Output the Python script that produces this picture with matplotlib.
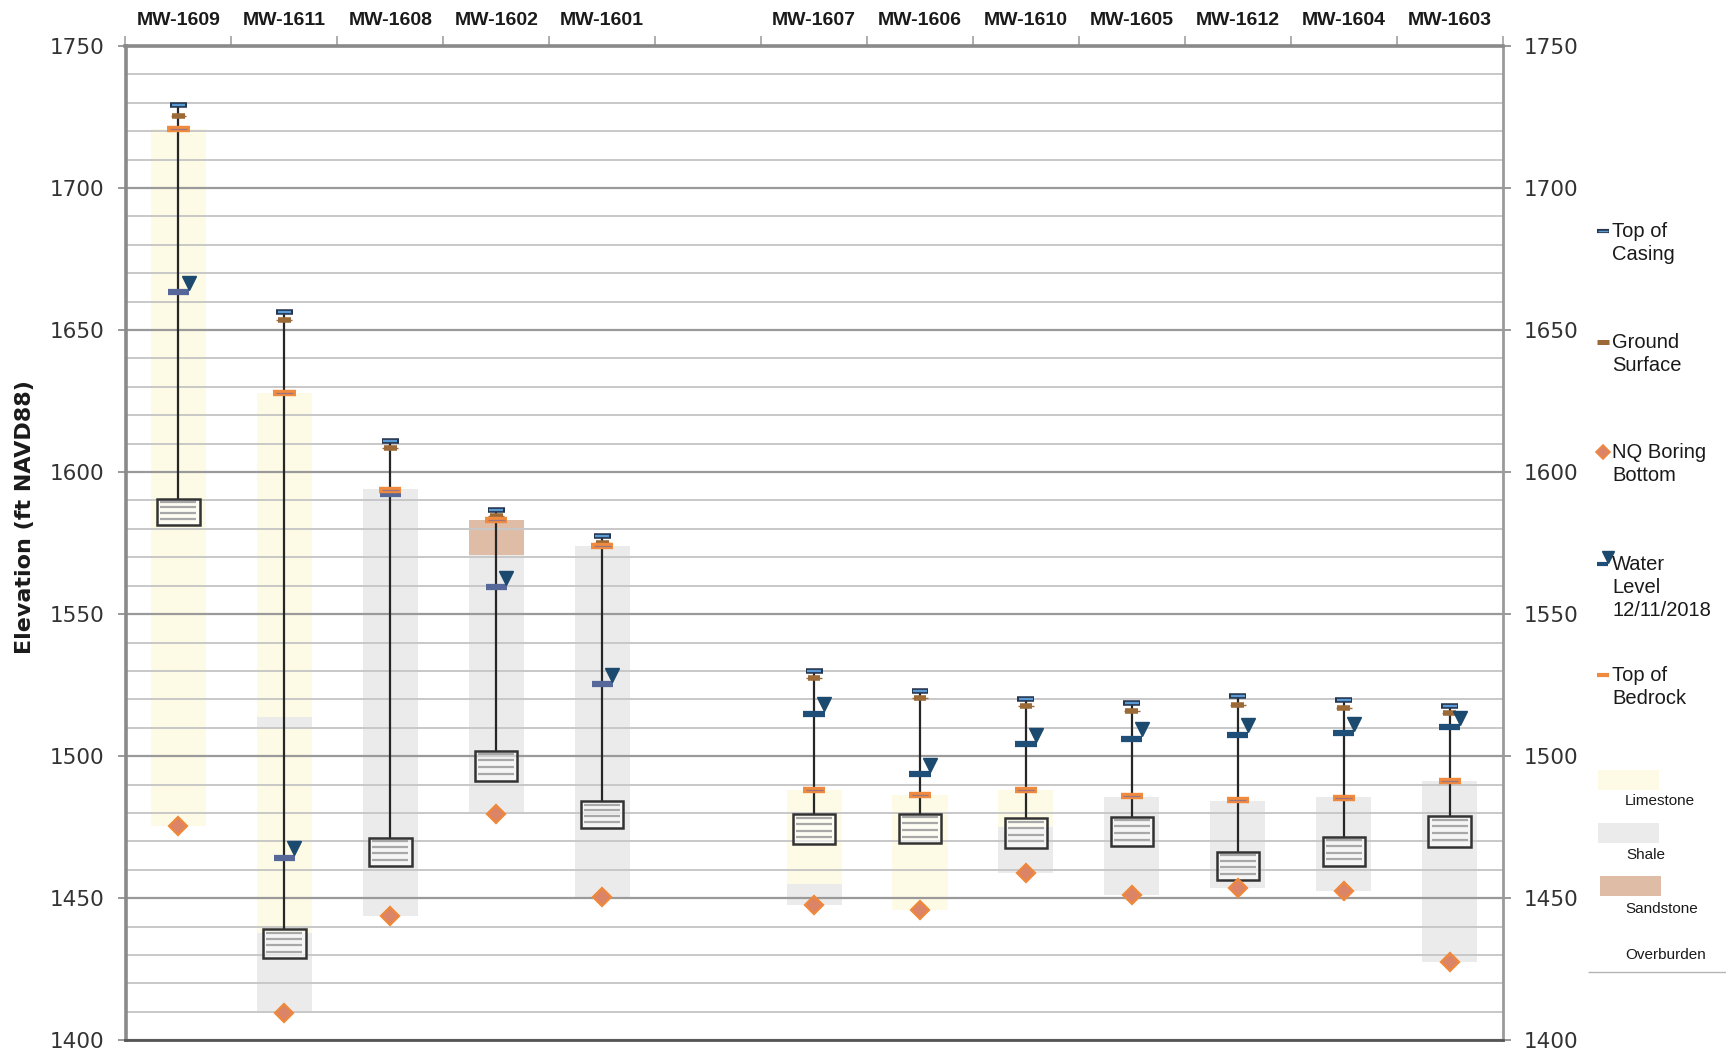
import numpy as np
import matplotlib.pyplot as plt
from matplotlib.patches import Rectangle

# wells along the section; None leaves an empty column between the two groups
columns = ['MW-1609', 'MW-1611', 'MW-1608', 'MW-1602', 'MW-1601', None,
           'MW-1607', 'MW-1606', 'MW-1610', 'MW-1605', 'MW-1612', 'MW-1604', 'MW-1603']

# elevations, ft NAVD88 (one value per well, gap excluded)
top_casing = [1729.2, 1656.3, 1611.0, 1586.6, 1577.6, 1530.0, 1522.8, 1520.0, 1518.6, 1521.1, 1519.6, 1517.5]
ground_surface = [1725.4, 1653.7, 1608.4, 1584.5, 1574.9, 1527.4, 1520.4, 1517.6, 1516.0, 1518.0, 1517.1, 1515.3]
top_bedrock = [1720.8, 1627.7, 1593.7, 1583.1, 1573.9, 1488.2, 1486.3, 1488.2, 1485.9, 1484.6, 1485.3, 1491.2]
water_level = [1663.3, 1464.3, 1592.3, 1559.5, 1525.4, 1514.9, 1493.6, 1504.3, 1506.2, 1507.6, 1508.2, 1510.1]
screen_top = [1590.5, 1439.0, 1471.3, 1501.9, 1484.1, 1479.5, 1479.7, 1478.1, 1478.7, 1466.3, 1471.7, 1478.9]
screen_bottom = [1581.3, 1428.8, 1461.4, 1491.4, 1474.6, 1469.2, 1469.3, 1467.8, 1468.3, 1456.4, 1461.5, 1468.2]
boring_bottom = [1475.4, 1409.5, 1443.6, 1479.6, 1450.5, 1447.7, 1445.9, 1458.8, 1451.2, 1453.6, 1452.6, 1427.7]
no_wl_symbol = ['MW-1608']

# rock units logged in each boring: (top, bottom, unit)
lithology = [
    [(1720.8, 1475.4, 'Limestone')],
    [(1627.7, 1513.9, 'Limestone'), (1513.9, 1510.4, 'Shale'),
     (1510.4, 1437.6, 'Limestone'), (1437.6, 1409.5, 'Shale')],
    [(1594.0, 1443.6, 'Shale')],
    [(1583.1, 1570.9, 'Sandstone'), (1570.9, 1480.2, 'Shale')],
    [(1573.9, 1450.5, 'Shale')],
    [(1488.1, 1454.9, 'Limestone'), (1454.9, 1447.7, 'Shale')],
    [(1486.3, 1445.9, 'Limestone')],
    [(1488.1, 1475.2, 'Limestone'), (1475.2, 1458.8, 'Shale')],
    [(1485.7, 1451.2, 'Shale')],
    [(1484.3, 1453.6, 'Shale')],
    [(1485.5, 1452.6, 'Shale')],
    [(1491.2, 1427.7, 'Shale')],
]

unit_colors = {'Limestone': '#fdfbe5', 'Shale': '#ebebeb', 'Sandstone': '#dfbca6'}
c_casing, c_casing_in = '#26374f', '#5b9bd5'
c_ground = '#9c6a36'
c_bedrock = '#f08a3e'
c_diamond_face, c_diamond_edge = '#db8468', '#f0883a'
c_wl_left, c_wl_right, c_tri = '#56689a', '#1f4e79', '#1b4a6e'

wells = [c for c in columns if c]
xs = [i for i, c in enumerate(columns) if c]
gap = columns.index(None)

fig = plt.figure(figsize=(17.26, 10.58), dpi=100)
ax = fig.add_axes([125.5 / 1726, 1 - 1040.3 / 1058, (1502.6 - 125.5) / 1726, (1040.3 - 45.9) / 1058])

ax.set_xlim(-0.5, len(columns) - 0.5)
ax.set_ylim(1400, 1750)

# grid
ax.set_yticks(np.arange(1400, 1751, 50))
ax.set_yticks(np.arange(1400, 1751, 10), minor=True)
ax.set_axisbelow('line')
ax.grid(axis='y', which='minor', color='#c8c8c8', lw=1.4)
ax.grid(axis='y', which='major', color='#9a9a9a', lw=1.6)

col_w, box_w = 0.52, 0.40
for x, well, units in zip(xs, wells, lithology):
    for top, bot, unit in units:
        ax.add_patch(Rectangle((x - col_w / 2, bot), col_w, top - bot,
                               facecolor=unit_colors[unit], edgecolor='none', zorder=1))

for i, (x, well) in enumerate(zip(xs, wells)):
    # riser from top of casing down to the screen
    ax.vlines(x, screen_top[i], top_casing[i], color='#262626', lw=1.6, zorder=3)

    # screened interval
    st, sb = screen_top[i], screen_bottom[i]
    ax.add_patch(Rectangle((x - box_w / 2, sb), box_w, st - sb, facecolor='white',
                           alpha=0.55, edgecolor='none', zorder=4))
    for f in (0.22, 0.45, 0.68, 0.88):
        yy = sb + f * (st - sb)
        ax.hlines(yy, x - box_w / 2 + 0.03, x + box_w / 2 - 0.03, color='#a8a8a8', lw=1.6, zorder=4)
    ax.add_patch(Rectangle((x - box_w / 2, sb), box_w, st - sb, facecolor='none',
                           edgecolor='#333333', lw=1.8, zorder=4.5))

    # water level
    wl_color = c_wl_left if x < gap else c_wl_right
    ax.hlines(water_level[i], x - 0.1, x + 0.1, color=wl_color, lw=4.5, zorder=5)
    if well not in no_wl_symbol:
        ax.plot(x + 0.095, water_level[i] + 3.3, marker='v', ms=10, color=c_tri,
                mec=c_tri, zorder=6)

    # ground surface
    ax.hlines(ground_surface[i], x - 0.075, x + 0.075, color=c_ground, lw=1.0, zorder=5)
    ax.hlines(ground_surface[i], x - 0.06, x + 0.06, color=c_ground, lw=4.0, zorder=5)

    # top of casing
    ax.hlines(top_casing[i], x - 0.08, x + 0.08, color=c_casing, lw=4.0, zorder=6)
    ax.hlines(top_casing[i], x - 0.065, x + 0.065, color=c_casing_in, lw=1.6, zorder=6)

    # top of bedrock
    ax.hlines(top_bedrock[i], x - 0.105, x + 0.105, color=c_bedrock, lw=4.6, zorder=7)
    ax.hlines(top_bedrock[i], x - 0.08, x + 0.08, color='#9a7483', lw=0.9, zorder=7)

    # bottom of NQ boring
    ax.plot(x, boring_bottom[i], marker='D', ms=9, mfc=c_diamond_face, mec=c_diamond_edge,
            mew=1.6, zorder=7)

# axes styling
for side in ('left', 'top'):
    ax.spines[side].set_color('#8a8a8a')
    ax.spines[side].set_linewidth(2.6)
ax.spines['right'].set_color('#9a9a9a')
ax.spines['right'].set_linewidth(2.0)
ax.spines['bottom'].set_color('#555555')
ax.spines['bottom'].set_linewidth(2.0)

ax.tick_params(axis='y', which='major', left=True, right=True, labelleft=True, labelright=True,
               length=6, width=1.2, color='#888888', pad=9, labelsize=15.5, labelcolor='#333333')
ax.tick_params(axis='y', which='minor', left=False, right=False)

ax.xaxis.tick_top()
ax.set_xticks(np.arange(-0.5, len(columns)))
ax.set_xticklabels([])
ax.set_xticks(range(len(columns)), minor=True)
ax.set_xticklabels([c or '' for c in columns], minor=True, fontweight='bold',
                   fontfamily='Liberation Sans', fontsize=14, color='#1a1a1a')
ax.tick_params(axis='x', which='major', length=7, width=1.1, color='#999999')
ax.tick_params(axis='x', which='minor', length=0, pad=12)

fig.text(25 / 1726, 1 - 517 / 1058, 'Elevation (ft NAVD88)', rotation=90, ha='center', va='center',
         fontsize=16, fontweight='bold', color='#1a1a1a')

# legend, laid out in pixel coordinates
lax = fig.add_axes([0, 0, 1, 1], facecolor='none')
lax.set_xlim(0, 1726)
lax.set_ylim(1058, 0)
lax.axis('off')

lx, tx = 1603, 1612
lf = dict(fontsize=14.5, fontfamily='Liberation Sans', color='#1a1a1a', va='top', ha='left',
          linespacing=1.28)

lax.hlines(231, lx - 6, lx + 6, color=c_casing, lw=3.0)
lax.hlines(231, lx - 5, lx + 5, color=c_casing_in, lw=1.0)
lax.text(tx, 222, 'Top of\nCasing', **lf)

lax.hlines(342, lx - 6, lx + 6, color=c_ground, lw=3.6)
lax.text(tx, 333, 'Ground\nSurface', **lf)

lax.plot(lx, 452, marker='D', ms=7, mfc=c_diamond_face, mec=c_diamond_edge, mew=1.2)
lax.text(tx, 443, 'NQ Boring\nBottom', **lf)

lax.hlines(564, lx - 6, lx + 5, color=c_wl_right, lw=3.0)
lax.plot(lx + 5, 557, marker='v', ms=8, color=c_tri)
lax.text(tx, 555, 'Water\nLevel\n12/11/2018', **lf)

lax.hlines(675, lx - 6, lx + 6, color=c_bedrock, lw=3.0)
lax.text(tx, 666, 'Top of\nBedrock', **lf)

sf = dict(fontsize=11, fontfamily='Liberation Sans', color='#1a1a1a', va='center', ha='left')
lax.add_patch(Rectangle((1598, 770), 61, 20, facecolor=unit_colors['Limestone'], edgecolor='none'))
lax.text(1625, 801, 'Limestone', **sf)
lax.add_patch(Rectangle((1598, 823), 61, 20, facecolor=unit_colors['Shale'], edgecolor='none'))
lax.text(1626, 855, 'Shale', **sf)
lax.add_patch(Rectangle((1600, 876), 61, 20, facecolor=unit_colors['Sandstone'], edgecolor='none'))
lax.text(1625, 909, 'Sandstone', **sf)
lax.text(1625, 955, 'Overburden', **sf)
lax.hlines(972, 1588, 1726, color='#b5b5b5', lw=1.0)

fig.savefig('out.png', dpi=100)
